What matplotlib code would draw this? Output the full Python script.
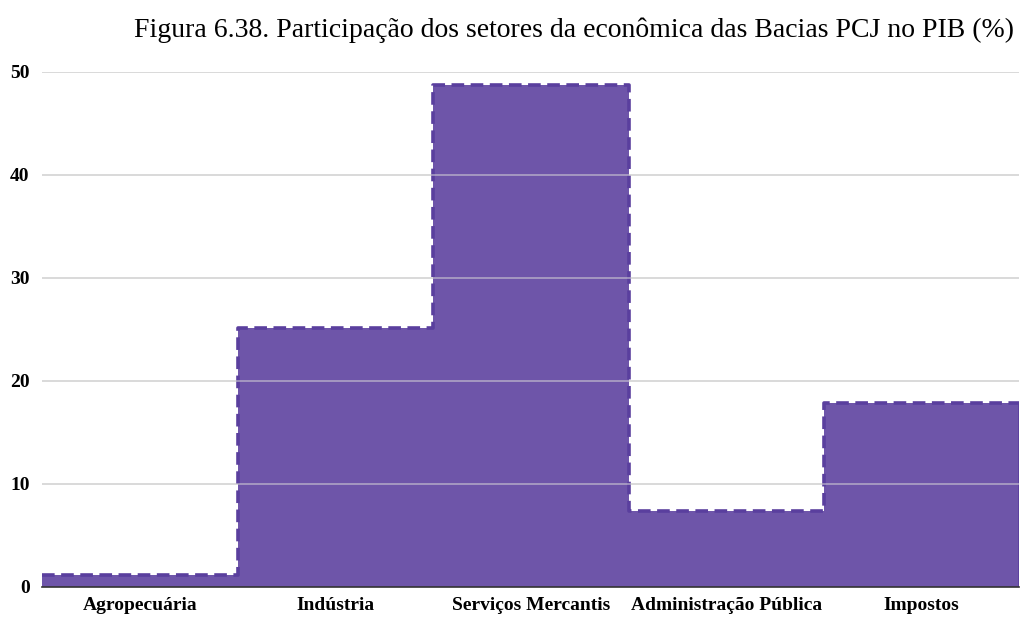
import matplotlib
matplotlib.use("Agg")
import matplotlib.pyplot as plt
import numpy as np

categories = ["Agropecuária", "Indústria", "Serviços Mercantis", "Administração Pública", "Impostos"]
values = [1.2, 25.1, 48.7, 7.4, 17.9]
yticks = [0, 10, 20, 30, 40, 50]

plt.rcParams['font.family'] = ['Liberation Serif', 'DejaVu Serif']

fig = plt.figure(figsize=(10.3, 6.19), dpi=100)
ax = fig.add_axes([0.0408, 0.0517, 0.949, 0.832])

x = np.arange(len(categories))
xs = np.concatenate([[-0.5], np.repeat(np.arange(len(categories) - 1) + 0.5, 2), [len(categories) - 0.5]])
ys = np.repeat(values, 2)

fill_c = "#6e55a9"
edge_c = "#5a3f9e"
ax.fill_between(xs, 0, ys, color=fill_c, zorder=1, linewidth=0)
ax.plot(xs, ys, color=edge_c, linestyle=(0, (3.5, 1.8)), linewidth=2.6, zorder=2)
ax.plot([xs[-1], xs[-1]], [0, ys[-1]], color=edge_c, linewidth=1.2, zorder=2)

for t in yticks[1:]:
    ax.axhline(t, color="#d9d9d9", linewidth=1.3, alpha=0.55, zorder=3)
    ax.plot([-0.5, 4.5], [t, t], color="#d9d9d9", linewidth=1.3, zorder=0)

ax.set_xlim(-0.5, 4.5)
ax.set_ylim(0, 50)
ax.set_xticks(x)
ax.set_xticklabels(categories, fontsize=14, fontweight='bold')
ax.set_yticks(yticks)
ax.set_yticklabels([str(t) for t in yticks], fontsize=14, fontweight='bold')
ax.tick_params(axis='x', length=0, pad=7)
ax.tick_params(axis='y', length=0, pad=9)
for s in ["top", "right", "left"]:
    ax.spines[s].set_visible(False)
ax.spines["bottom"].set_color("#333333")
ax.spines["bottom"].set_linewidth(1.2)
ax.spines["bottom"].set_zorder(4)

fig.text(0.5573, 0.951, "Figura 6.38. Participação dos setores da econômica das Bacias PCJ no PIB (%)",
         ha="center", va="center", fontsize=20)

fig.savefig("out.png", dpi=100)
